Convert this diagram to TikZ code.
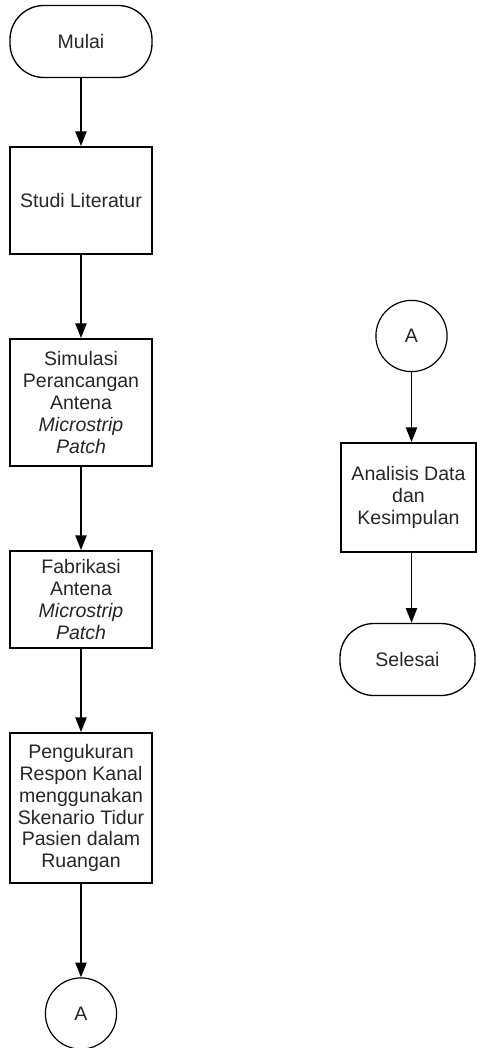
\documentclass[tikz,border=0pt]{standalone}
\usepackage{fontspec}
\setmainfont{Liberation Sans}
\usetikzlibrary{arrows.meta,shapes,positioning}

\begin{document}
\begin{tikzpicture}[
    x=0.25mm, y=-0.25mm,
    every node/.style={font=\fontsize{13.9}{15.6}\selectfont, text=black!85, align=center, inner sep=0pt},
    terminal/.style={rectangle,draw,rounded corners=8.5mm,line width=0.95pt,minimum width=35.5mm,minimum height=18mm},
    process/.style={rectangle,draw,line width=1.3pt,minimum width=35.5mm},
    connector/.style={circle,draw,line width=0.85pt,minimum size=17.8mm},
    flowline/.style={draw,line width=1.3pt,-{Triangle[length=3.7mm,width=2.8mm]}}
  ]
    \useasboundingbox (0,0) rectangle (477,1048);

    % Left column
    \node[terminal] (mulai) at (81, 41.5) {Mulai};
    \node[process, minimum height=26.75mm] (studi) at (81, 200.5) {Studi Literatur};
    \node[process, minimum height=31.75mm] (simulasi) at (81, 402.5)
      {Simulasi\\Perancangan\\Antena\\\textit{Microstrip}\\\textit{Patch}};
    \node[process, minimum height=24.25mm] (fabrikasi) at (81, 599.5)
      {Fabrikasi\\Antena\\\textit{Microstrip}\\\textit{Patch}};
    \node[process, minimum height=37.5mm] (pengukuran) at (81, 808)
      {Pengukuran\\Respon Kanal\\menggunakan\\Skenario Tidur\\Pasien dalam\\Ruangan};
    \node[connector] (conA1) at (81, 1013.5) {A};

    \draw[flowline] (mulai) -- (studi);
    \draw[flowline] (studi) -- (simulasi);
    \draw[flowline] (simulasi) -- (fabrikasi);
    \draw[flowline] (fabrikasi) -- (pengukuran);
    \draw[flowline] (pengukuran) -- (conA1);

    % Right column
    \node[connector] (conA2) at (411.5, 336) {A};
    \node[process, minimum width=33.75mm, minimum height=27.25mm] (analisis) at (408.5, 497.5)
      {Analisis Data\\dan\\Kesimpulan};
    \node[terminal, minimum width=33.75mm] (selesai) at (407.5, 659.5) {Selesai};

    \draw[flowline] (conA2) -- (conA2 |- analisis.north);
    \draw[flowline] (analisis.south -| conA2) -- (selesai.north -| conA2);

  \end{tikzpicture}
\end{document}
